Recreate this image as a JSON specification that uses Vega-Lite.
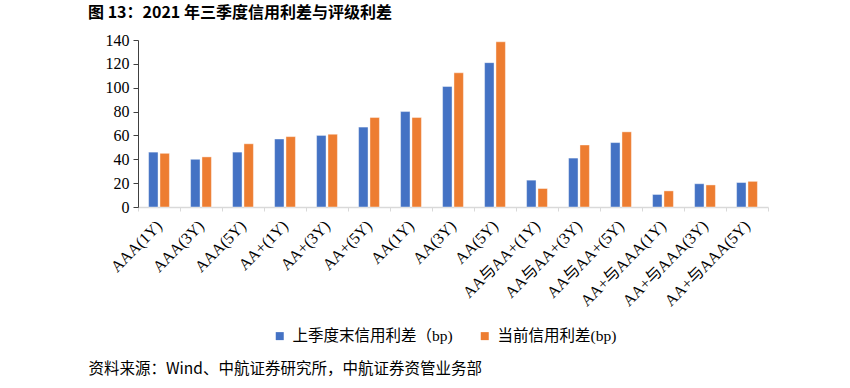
{
  "$schema": "https://vega.github.io/schema/vega-lite/v6.json",
  "width": 630,
  "height": 167,
  "autosize": {"type": "none"},
  "padding": {"left": 138, "top": 40, "right": 82, "bottom": 181},
  "background": "white",
  "title": {
    "text": "图 13：2021 年三季度信用利差与评级利差",
    "anchor": "start",
    "frame": "group",
    "font": "Noto Sans CJK SC",
    "fontSize": 16,
    "fontWeight": "bold",
    "color": "#000000",
    "dx": -50,
    "dy": 14,
    "baseline": "alphabetic",
    "offset": 12
  },
  "data": {
    "values": [
      {"cat": "AAA(1Y)", "series": "上季度末信用利差（bp)", "value": 46},
      {"cat": "AAA(1Y)", "series": "当前信用利差(bp)", "value": 45},
      {"cat": "AAA(3Y)", "series": "上季度末信用利差（bp)", "value": 40},
      {"cat": "AAA(3Y)", "series": "当前信用利差(bp)", "value": 42},
      {"cat": "AAA(5Y)", "series": "上季度末信用利差（bp)", "value": 46},
      {"cat": "AAA(5Y)", "series": "当前信用利差(bp)", "value": 53},
      {"cat": "AA+(1Y)", "series": "上季度末信用利差（bp)", "value": 57},
      {"cat": "AA+(1Y)", "series": "当前信用利差(bp)", "value": 59},
      {"cat": "AA+(3Y)", "series": "上季度末信用利差（bp)", "value": 60},
      {"cat": "AA+(3Y)", "series": "当前信用利差(bp)", "value": 61},
      {"cat": "AA+(5Y)", "series": "上季度末信用利差（bp)", "value": 67},
      {"cat": "AA+(5Y)", "series": "当前信用利差(bp)", "value": 75},
      {"cat": "AA(1Y)", "series": "上季度末信用利差（bp)", "value": 80},
      {"cat": "AA(1Y)", "series": "当前信用利差(bp)", "value": 75},
      {"cat": "AA(3Y)", "series": "上季度末信用利差（bp)", "value": 101},
      {"cat": "AA(3Y)", "series": "当前信用利差(bp)", "value": 112.5},
      {"cat": "AA(5Y)", "series": "上季度末信用利差（bp)", "value": 121},
      {"cat": "AA(5Y)", "series": "当前信用利差(bp)", "value": 138.5},
      {"cat": "AA与AA+(1Y)", "series": "上季度末信用利差（bp)", "value": 22.5},
      {"cat": "AA与AA+(1Y)", "series": "当前信用利差(bp)", "value": 15.5},
      {"cat": "AA与AA+(3Y)", "series": "上季度末信用利差（bp)", "value": 41},
      {"cat": "AA与AA+(3Y)", "series": "当前信用利差(bp)", "value": 52},
      {"cat": "AA与AA+(5Y)", "series": "上季度末信用利差（bp)", "value": 54},
      {"cat": "AA与AA+(5Y)", "series": "当前信用利差(bp)", "value": 63},
      {"cat": "AA+与AAA(1Y)", "series": "上季度末信用利差（bp)", "value": 10.5},
      {"cat": "AA+与AAA(1Y)", "series": "当前信用利差(bp)", "value": 13.5},
      {"cat": "AA+与AAA(3Y)", "series": "上季度末信用利差（bp)", "value": 19.5},
      {"cat": "AA+与AAA(3Y)", "series": "当前信用利差(bp)", "value": 18.5},
      {"cat": "AA+与AAA(5Y)", "series": "上季度末信用利差（bp)", "value": 20.5},
      {"cat": "AA+与AAA(5Y)", "series": "当前信用利差(bp)", "value": 21.5}
    ]
  },
  "mark": {"type": "bar", "stroke": "#ffffff", "strokeWidth": 0.7, "strokeOpacity": 0.6},
  "encoding": {
    "x": {
      "field": "cat",
      "type": "nominal",
      "sort": null,
      "scale": {"paddingInner": 0, "paddingOuter": 0},
      "axis": {
        "title": "资料来源：Wind、中航证券研究所，中航证券资管业务部",
        "titleX": -50,
        "titleY": 161,
        "titleAlign": "left",
        "titleAnchor": null,
        "titleBaseline": "middle",
        "titleAngle": 0,
        "titleFont": "Noto Sans CJK SC",
        "titleFontSize": 15.5,
        "titleFontWeight": "normal",
        "titleColor": "#000000",
        "labelAngle": -45,
        "labelAlign": "right",
        "labelBaseline": "middle",
        "labelFont": "Liberation Serif, Noto Sans CJK SC",
        "labelFontSize": 16,
        "labelColor": "#000000",
        "labelPadding": 12,
        "labelLimit": 300,
        "tickBand": "extent",
        "tickSize": 4,
        "tickColor": "#d9d9d9",
        "domainColor": "#d9d9d9",
        "domainWidth": 1.5
      }
    },
    "xOffset": {
      "field": "series",
      "type": "nominal",
      "sort": ["上季度末信用利差（bp)", "当前信用利差(bp)"],
      "scale": {"paddingInner": 0.17, "paddingOuter": 0.93}
    },
    "y": {
      "field": "value",
      "type": "quantitative",
      "scale": {"domain": [0, 140], "nice": false},
      "axis": {
        "title": null,
        "values": [0, 20, 40, 60, 80, 100, 120, 140],
        "labelFont": "Liberation Serif",
        "labelFontSize": 16,
        "labelColor": "#000000",
        "labelPadding": 4,
        "tickSize": 5,
        "tickColor": "#404040",
        "domainColor": "#404040",
        "grid": false
      }
    },
    "color": {
      "field": "series",
      "type": "nominal",
      "scale": {
        "domain": ["上季度末信用利差（bp)", "当前信用利差(bp)"],
        "range": ["#4472C4", "#ED7D31"]
      },
      "legend": {
        "title": null,
        "orient": "none",
        "legendX": 134,
        "legendY": 288,
        "direction": "horizontal",
        "symbolType": "square",
        "symbolSize": 64,
        "symbolStrokeWidth": 0,
        "labelFont": "Liberation Serif, Noto Sans CJK SC",
        "labelFontSize": 15.5,
        "labelColor": "#000000",
        "labelLimit": 400,
        "labelOffset": 5,
        "columnPadding": 24
      }
    }
  },
  "config": {
    "view": {"stroke": null},
    "axis": {"grid": false}
  }
}
